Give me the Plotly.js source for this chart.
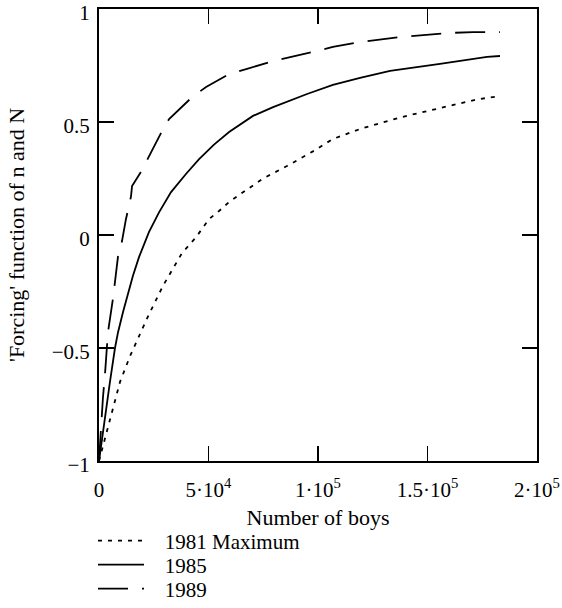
<!DOCTYPE html>
<html>
<head>
<meta charset="utf-8">
<script src="https://cdn.plot.ly/plotly-3.0.1.min.js"></script>
<style>html,body{margin:0;padding:0;background:#fff;}#chart{width:562px;height:608px;}</style>
</head>
<body>
<div id="chart"></div>
<script>
// Data
const x1981 = [0, 1400, 3700, 6400, 9600, 14200, 21900, 29200, 37900, 44300, 50200, 54800, 59400, 64400, 74900, 85800, 97700, 106800, 119200, 137400, 160300, 172600, 183100];
const y1981 = [-1, -0.95, -0.86, -0.76, -0.65, -0.535, -0.37, -0.225, -0.08, -0.01, 0.07, 0.106, 0.146, 0.18, 0.25, 0.305, 0.37, 0.425, 0.469, 0.52, 0.57, 0.60, 0.615];

const x1985 = [0, 1400, 2700, 5000, 7300, 8700, 11000, 15500, 18300, 22800, 27400, 32900, 39700, 45700, 52500, 59400, 70300, 79500, 95000, 106800, 119200, 132900, 155700, 164800, 177200, 183100];
const y1985 = [-1, -0.90, -0.80, -0.65, -0.50, -0.43, -0.34, -0.18, -0.097, 0.013, 0.10, 0.19, 0.27, 0.336, 0.40, 0.456, 0.527, 0.566, 0.624, 0.664, 0.695, 0.726, 0.757, 0.77, 0.788, 0.792];

const x1989 = [0, 900, 1800, 2700, 4100, 6400, 8700, 10500, 12300, 14600, 15100, 19200, 22800, 28800, 32000, 42500, 48900, 53400, 59400, 67600, 79500, 99500, 106800, 119200, 137400, 160300, 170800, 183100];
const y1989 = [-1, -0.85, -0.72, -0.62, -0.43, -0.28, -0.093, -0.027, 0.07, 0.17, 0.217, 0.28, 0.35, 0.46, 0.513, 0.61, 0.655, 0.68, 0.712, 0.735, 0.77, 0.814, 0.832, 0.854, 0.876, 0.894, 0.898, 0.898];

const seriesNames = ["1981 Maximum", "1985", "1989"];
const xTickVals = [0, 50000, 100000, 150000, 200000];
const xTickText = ["0", "5·10<sup>4</sup>", "1·10<sup>5</sup>", "1.5·10<sup>5</sup>", "2·10<sup>5</sup>"];
const yTickVals = [-1, -0.5, 0, 0.5, 1];
const yTickText = ["\u22121", "\u22120.5", "0", "0.5", "1"];

const FONT = "Liberation Serif, Times New Roman, serif";
const PAD = "\u00a0\u00a0\u00a0";

const traces = [
  {x: x1981, y: y1981, name: PAD + seriesNames[0], mode: "lines", legend: "legend",
   line: {color: "#000", width: 1.8, dash: "4px,6px"}},
  {x: x1985, y: y1985, name: PAD + seriesNames[1], mode: "lines", legend: "legend2",
   line: {color: "#000", width: 1.8}},
  {x: x1989, y: y1989, name: PAD + seriesNames[2], mode: "lines", legend: "legend3",
   line: {color: "#000", width: 1.8, dash: "30px,14px"}}
];

function legendAt(yPaper) {
  return {x: -0.0137, xanchor: "left", y: yPaper, yanchor: "middle",
          bgcolor: "rgba(0,0,0,0)", borderwidth: 0,
          font: {family: FONT, size: 21, color: "#000"}, itemwidth: 46};
}

const layout = {
  width: 562, height: 608,
  margin: {l: 99, r: 25, t: 9, b: 147, autoexpand: false},
  paper_bgcolor: "#fff", plot_bgcolor: "#fff",
  font: {family: FONT, size: 21, color: "#000"},
  showlegend: true,
  legend: legendAt(-0.1770),
  legend2: legendAt(-0.2301),
  legend3: legendAt(-0.2832),
  xaxis: {
    range: [0, 200000], tickvals: xTickVals, ticktext: xTickText,
    ticks: "inside", ticklen: 15, tickwidth: 1.5, tickcolor: "#000",
    showline: true, linecolor: "#000", linewidth: 2, mirror: "ticks",
    showgrid: false, zeroline: false, ticklabelstandoff: 9, ticklabeloverflow: "allow",
    title: {text: "Number of boys", font: {family: FONT, size: 22, color: "#000"}, standoff: 8}
  },
  yaxis: {
    range: [-1, 1], tickvals: yTickVals, ticktext: yTickText,
    ticks: "inside", ticklen: 15, tickwidth: 1.5, tickcolor: "#000",
    showline: true, linecolor: "#000", linewidth: 2, mirror: "ticks",
    showgrid: false, zeroline: false, ticklabelstandoff: 3, ticklabelshift: 4, ticklabeloverflow: "allow",
    title: {text: "'Forcing' function of n and N", font: {family: FONT, size: 22, color: "#000"}, standoff: 21}
  }
};

Plotly.newPlot("chart", traces, layout, {displayModeBar: false, staticPlot: true});
</script>
</body>
</html>
